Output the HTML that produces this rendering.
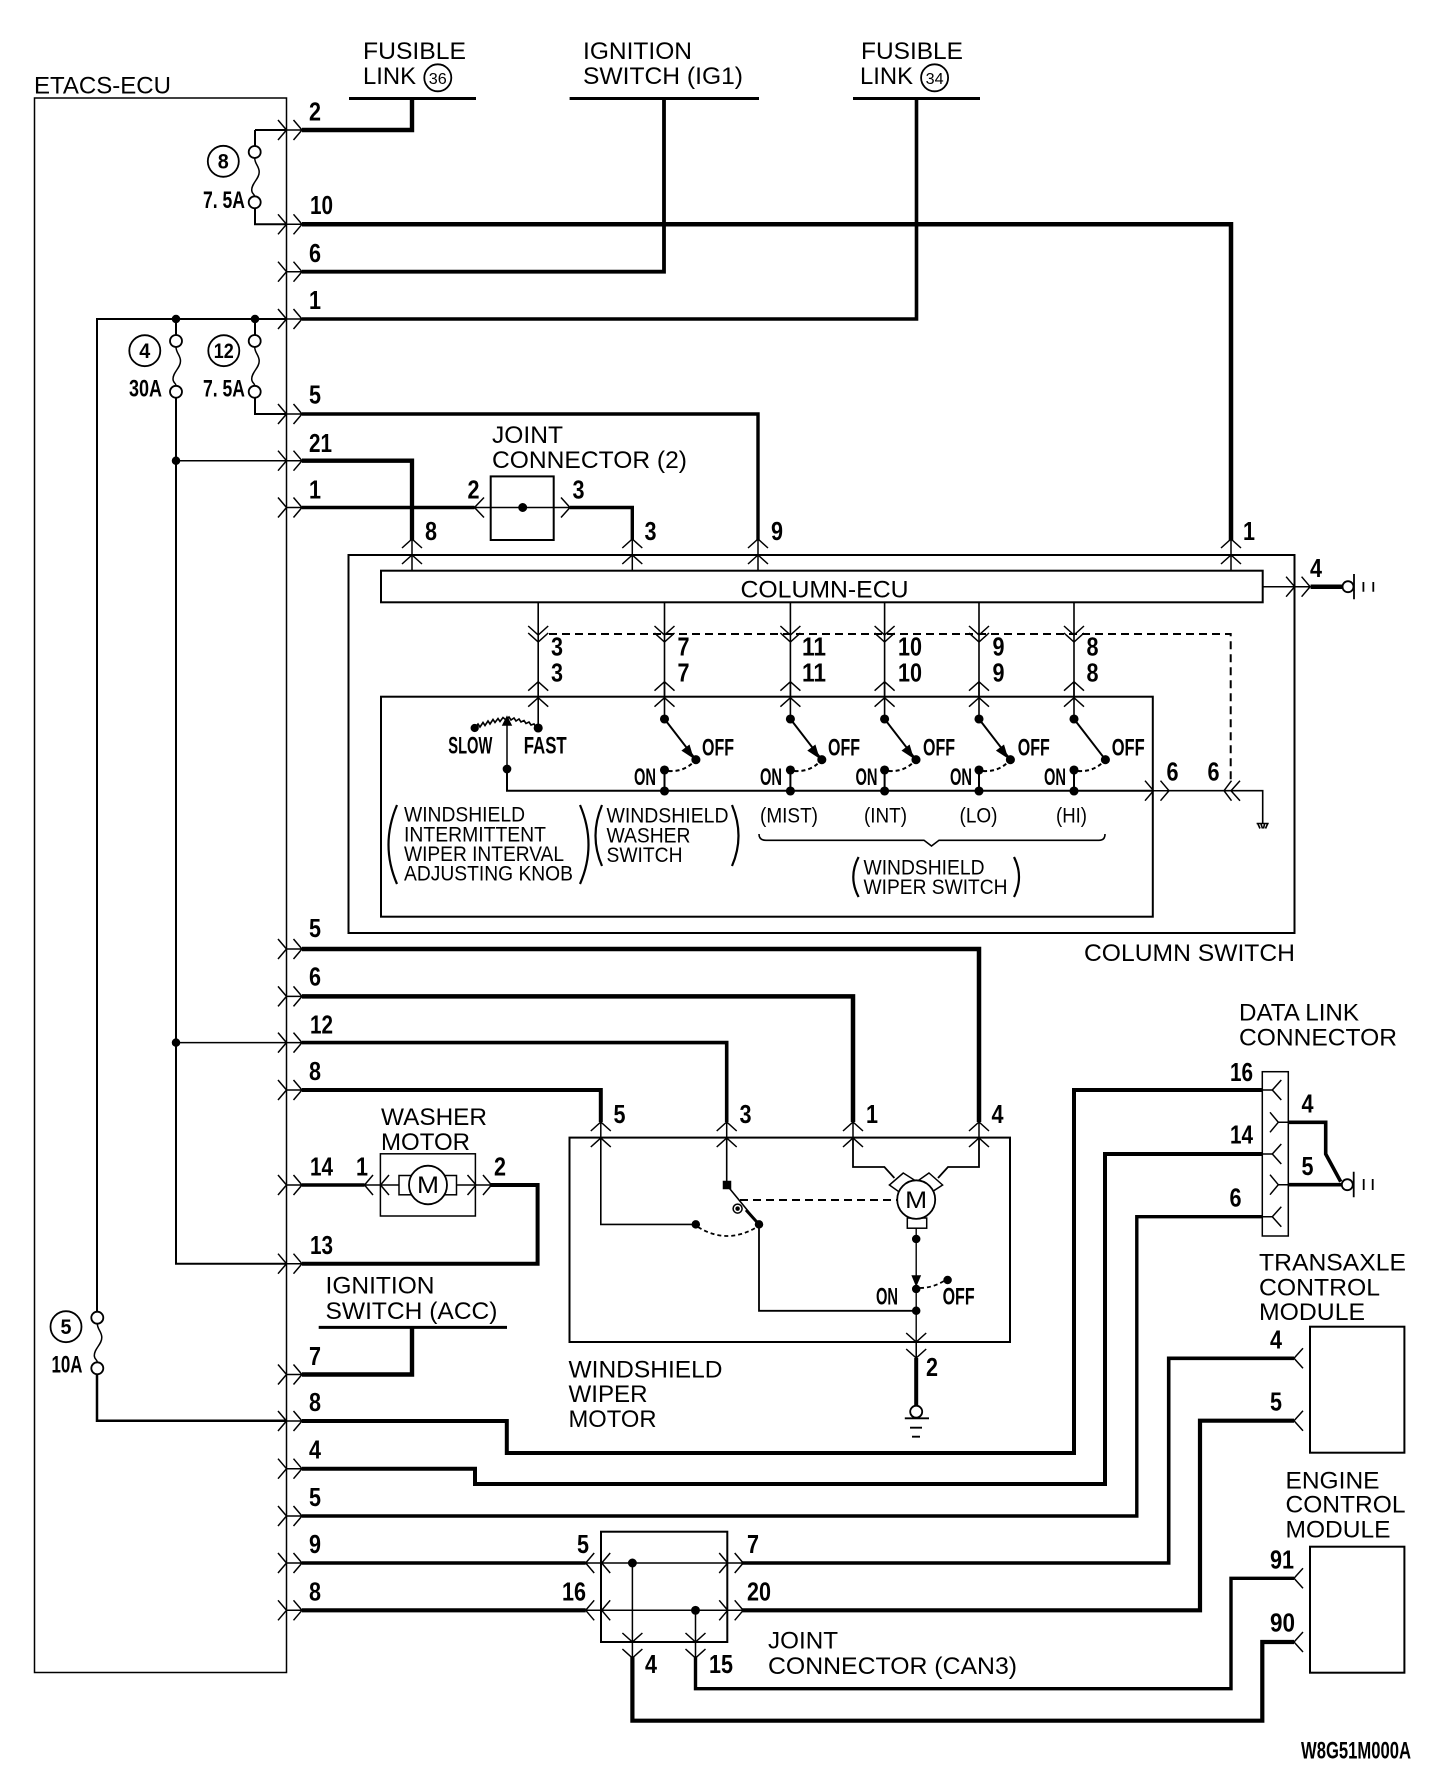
<!DOCTYPE html>
<html><head><meta charset="utf-8"><title>Wiper circuit</title>
<style>
html,body{margin:0;padding:0;background:#fff}
svg{display:block}
text{fill:#000;stroke:none}
.t{font:24.5px "Liberation Sans",sans-serif}
.s{font:21px "Liberation Sans",sans-serif}
.d{font:bold 26px "Liberation Sans",sans-serif}
.b{font:bold 24px "Liberation Sans",sans-serif}
.c{font:bold 21px "Liberation Sans",sans-serif}
.k{font:16px "Liberation Sans",sans-serif}
</style></head><body>
<svg xmlns="http://www.w3.org/2000/svg" width="1456" height="1790" viewBox="0 0 1456 1790" fill="none" stroke="#000" stroke-width="1.5">
<defs>
<path id="r" d="M-8.5-10L0 0L-8.5 10M7-10L15.5 0L7 10M0 0H15.5"/>
<path id="l" d="M8.5-10L0 0L8.5 10M24.5-10L16 0L24.5 10M0 0H16"/>
<path id="u" d="M-10 9L0 0L10 9M-10 25L0 16L10 25M0 0V16"/>
<path id="v" d="M-10-9L0 0L10-9M-10 7L0 16L10 7M0 0V16"/>
<path id="cc" d="M-10-9L0 0L10-9M-10-2L0 7L10-2"/>
<path id="in" d="M9-10L0 0L9 10"/>
<g id="sw"><circle cy="719" r="3.8" fill="#000"/><path d="M0 719L31.4 759.7" stroke-width="2"/><circle cx="31.4" cy="759.7" r="3.8" fill="#000"/><circle cy="770" r="3.8" fill="#000"/><circle cy="791" r="3.8" fill="#000"/><path d="M0 770V791" stroke-width="2"/><path d="M4 771Q20 772 30 761" stroke-width="2" stroke-dasharray="4 3"/></g>
<path id="ah" d="M28 757L18.2 750.6L24.6 745.8Z" fill="#000"/>
<path id="fw" d="M0 0C0 6 4.500 8 4.500 14C4.500 21-3 25-3 32C-3 36 0 36 0 38.500"/>
</defs>

<!-- boxes -->
<rect x="34.500" y="98" width="252" height="1574.500"/>
<rect x="348.500" y="555" width="946" height="378" stroke-width="2"/>
<rect x="381" y="570.700" width="881.700" height="31.600" stroke-width="2"/>
<rect x="381" y="696.700" width="771.800" height="220" stroke-width="2"/>
<rect x="490.700" y="476.400" width="63" height="63.600" stroke-width="2"/>
<rect x="569.500" y="1137.600" width="440.500" height="204.400" stroke-width="2"/>
<rect x="380.400" y="1153.800" width="95" height="62.200" stroke-width="1.500"/>
<rect x="601" y="1531.700" width="126.300" height="110.300" stroke-width="2"/>
<rect x="1262.300" y="1071.700" width="26" height="164.300" stroke-width="1.500"/>
<rect x="1310" y="1326.700" width="94.400" height="126" stroke-width="2"/>
<rect x="1310" y="1546.700" width="94.400" height="126" stroke-width="2"/>

<!-- supply bars -->
<path d="M349 98.500H476M569.600 98.500H759M853 98.500H980M318.700 1327.400H507" stroke-width="3"/>

<!-- thick wires -->
<g stroke-linejoin="miter">
<path d="M302 130H412V98" stroke-width="4.400"/>
<path d="M302 224.300H1231V540" stroke-width="4.500"/>
<path d="M302 271.700H664V98" stroke-width="3.800"/>
<path d="M302 319H916.500V98" stroke-width="3.600"/>
<path d="M302 414H758V540" stroke-width="3.400"/>
<path d="M302 460.700H412V540" stroke-width="4.300"/>
<path d="M302 507.500H474.500M570 507.500H632.300V540" stroke-width="3.400"/>
<path d="M302 949H979V1122" stroke-width="4.500"/>
<path d="M302 996.400H853V1122" stroke-width="4.500"/>
<path d="M302 1042.600H726.700V1122" stroke-width="3.600"/>
<path d="M302 1090H600.800V1122" stroke-width="4"/>
<path d="M302 1185H364.500" stroke-width="3.600"/>
<path d="M491 1185H537.600V1263.700H302" stroke-width="4"/>
<path d="M302 1374.500H412V1327" stroke-width="4.400"/>
<path d="M302 1421H506.800V1453H1074V1090H1262" stroke-width="4"/>
<path d="M302 1468.700H475V1484H1105V1154H1262" stroke-width="4"/>
<path d="M302 1516H1136.800V1216.700H1262" stroke-width="3.400"/>
<path d="M302 1563H585.700M742 1563H1168.700V1358.300H1294" stroke-width="3.600"/>
<path d="M302 1610.300H585.700M742 1610.300H1200V1420.700H1294" stroke-width="4.200"/>
<path d="M632.400 1657V1720.700H1262.300V1642H1294" stroke-width="4.200"/>
<path d="M695.500 1657V1688.700H1231V1578.300H1294" stroke-width="3.400"/>
<path d="M916.200 1358V1405.500" stroke-width="4"/>
<path d="M1310.600 586.700H1343" stroke-width="4.500"/>
<path d="M1288 1122.300H1325.700V1154L1340.700 1181.700M1288 1184.700H1341.700" stroke-width="3.600"/>
</g>

<!-- ETACS pins -->
<use href="#r" x="286.500" y="130"/><use href="#r" x="286.500" y="224.300"/><use href="#r" x="286.500" y="271.700"/><use href="#r" x="286.500" y="319"/><use href="#r" x="286.500" y="414"/><use href="#r" x="286.500" y="460.700"/><use href="#r" x="286.500" y="507.500"/><use href="#r" x="286.500" y="949"/><use href="#r" x="286.500" y="996.400"/><use href="#r" x="286.500" y="1042.600"/><use href="#r" x="286.500" y="1090"/><use href="#r" x="286.500" y="1185"/><use href="#r" x="286.500" y="1263.700"/><use href="#r" x="286.500" y="1374.500"/><use href="#r" x="286.500" y="1421"/><use href="#r" x="286.500" y="1468.700"/><use href="#r" x="286.500" y="1516"/><use href="#r" x="286.500" y="1563"/><use href="#r" x="286.500" y="1610.300"/>

<!-- internal buses and fuses -->
<path d="M255 130H286M255 130V146M255 208V224.300H286" stroke-width="2"/>
<path d="M97 1311V319H286M176 319V335M255 319V335M255 398V414H286" stroke-width="2"/>
<path d="M176 398V1263.700H286" stroke-width="2"/>
<path d="M176 460.700H286M176 1042.600H286" stroke-width="1.500"/>
<path d="M97 1374.500V1420.700H286" stroke-width="2.500"/>
<circle cx="176" cy="319" r="3.500" fill="#000"/><circle cx="255" cy="319" r="3.500" fill="#000"/><circle cx="176" cy="460.700" r="3.500" fill="#000"/><circle cx="176" cy="1042.600" r="3.500" fill="#000"/>
<g fill="#fff" stroke-width="1.800">
<circle cx="254.700" cy="152" r="6"/><circle cx="254.700" cy="202.300" r="6"/>
<circle cx="254.700" cy="341" r="6"/><circle cx="254.700" cy="391.800" r="6"/>
<circle cx="176" cy="341" r="6"/><circle cx="176" cy="391.800" r="6"/>
<circle cx="97.300" cy="1317.700" r="6"/><circle cx="97.300" cy="1368.300" r="6"/>
</g>
<use href="#fw" x="254.700" y="158"/><use href="#fw" x="254.700" y="347"/><use href="#fw" x="176" y="347"/><use href="#fw" x="97.300" y="1323.500"/>
<g stroke-width="1.800">
<circle cx="223.300" cy="161.300" r="15.500"/><circle cx="144.800" cy="350.700" r="15.500"/><circle cx="223.800" cy="350.700" r="15.500"/><circle cx="66" cy="1326.700" r="15.500"/>
<circle cx="437.800" cy="77.800" r="13.500"/><circle cx="934.600" cy="77.800" r="13.500"/>
</g>

<!-- up pins on column switch -->
<use href="#u" x="412" y="539"/><use href="#u" x="632.300" y="539"/><use href="#u" x="758" y="539"/><use href="#u" x="1231" y="539"/>
<path d="M412 555V570.700M632.300 555V570.700M758 555V570.700M1231 555V570.700"/>

<!-- joint connector 2 -->
<path d="M474.500 507.500H570M484 497.500L474.500 507.500L484 517.500M561 497.500L570 507.500L561 517.500"/>
<circle cx="522.700" cy="507.500" r="3.700" fill="#000"/>

<!-- column ECU ground -->
<path d="M1262.700 586.700H1294.600"/>
<use href="#r" x="1294.600" y="586.700"/>
<circle cx="1348" cy="586.700" r="5.500" fill="#fff" stroke-width="1.800"/>
<path d="M1354 574V599.300M1363.400 582V591.700M1373.300 582V591.700" stroke-width="1.800"/>

<!-- column ECU drops -->
<path d="M538.200 602.300V728M664.500 602.300V719M790.400 602.300V719M884.600 602.300V719M979 602.300V719M1074 602.300V719" stroke-width="1.600"/>
<use href="#cc" x="538.200" y="635"/><use href="#cc" x="664.500" y="635"/><use href="#cc" x="790.400" y="635"/><use href="#cc" x="884.600" y="635"/><use href="#cc" x="979" y="635"/><use href="#cc" x="1074" y="635"/>
<use href="#u" x="538.200" y="681.700"/><use href="#u" x="664.500" y="681.700"/><use href="#u" x="790.400" y="681.700"/><use href="#u" x="884.600" y="681.700"/><use href="#u" x="979" y="681.700"/><use href="#u" x="1074" y="681.700"/>
<path d="M549 634H1230.700V780" stroke-width="2" stroke-dasharray="8 5"/>

<!-- switches -->
<use href="#sw" x="664.500"/><use href="#sw" x="790.400"/><use href="#sw" x="884.600"/><use href="#sw" x="979"/><use href="#sw" x="1074"/>
<use href="#ah" x="664.500"/><use href="#ah" x="790.400"/><use href="#ah" x="884.600"/><use href="#ah" x="979"/>
<path d="M507 769V790.700H1153" stroke-width="2"/>
<path d="M507 769V722" stroke-width="1.500"/>
<path d="M507 717L503 725H511Z" fill="#000"/>
<circle cx="507" cy="769" r="3.600" fill="#000"/>
<circle cx="474.700" cy="728" r="3.400" fill="#000"/><circle cx="538.200" cy="728" r="3.800" fill="#000"/>
<path d="M475 728L478 724L480 727L483 722.500L485 725.500L488 721L490 724L493 719.500L495 722.500L498 718.500L500 721.500L503 717.500L506 720L509 717L511 720L514 718L516 721L519 719L521 722L524 720.500L526 723.500L529 722L531 725L534 724L536 727L538 728" stroke-width="1.600"/>
<use href="#r" x="1153.500" y="790.700"/>
<path d="M1168.800 790.700H1262.700V823" stroke-width="1.600"/>
<path d="M1231.500 780.700L1224 790.700L1231.500 800.700M1240 780.700L1231 790.700L1240 800.700"/>
<path d="M1256.600 823.500H1268.700M1258 824L1260 828.500M1261 824L1262.500 828.500M1264.500 824L1263.500 828.500M1267.500 824L1265.500 828.500" stroke-width="1.600"/>

<!-- big parens & brace -->
<g stroke-width="2.200">
<path d="M397 805Q380 845 397 884M580 805Q597 845 580 884"/>
<path d="M602 805Q589 836 602 866M732 805Q745 836 732 866"/>
<path d="M858.600 857Q848 877 858.600 897M1014 857Q1024 877 1014 897"/>
</g>
<path d="M759 834Q759 840.300 766 840.300H924L931.500 846L939 840.300H1099Q1105 840.300 1105 834" stroke-width="1.600"/>

<!-- washer motor -->
<use href="#l" x="364.500" y="1185"/><use href="#r" x="476" y="1185"/>
<path d="M381 1185H399M456.500 1185H476"/>
<rect x="399" y="1175.500" width="57.500" height="19.300"/>
<ellipse cx="428" cy="1185" rx="19" ry="19.300" fill="#fff" stroke-width="1.800"/>

<!-- wiper motor internals -->
<use href="#u" x="600.800" y="1122"/><use href="#u" x="726.700" y="1122"/><use href="#u" x="853" y="1122"/><use href="#u" x="979" y="1122"/>
<path d="M600.800 1138V1224.400H695.800" stroke-width="1.600"/>
<path d="M726.700 1138V1185L759 1224.400" stroke-width="1.600"/>
<rect x="723.500" y="1181.500" width="7" height="7" fill="#000"/>
<path d="M746 1210L759 1224.400" stroke-width="3"/>
<circle cx="737.600" cy="1208.600" r="4.500" stroke-width="1.500"/><circle cx="737.600" cy="1208.600" r="1.500" fill="#000"/>
<path d="M698 1227Q727 1245 757 1227" stroke-width="1.800" stroke-dasharray="4 3"/>
<circle cx="695.800" cy="1224.400" r="3.500" fill="#000"/><circle cx="759" cy="1224.400" r="3.500" fill="#000"/>
<path d="M759 1224.400V1310.800H916.200" stroke-width="1.800"/>
<path d="M740 1200H898" stroke-width="2" stroke-dasharray="8 5"/>
<path d="M853 1138V1167H884.400L894.400 1178M979 1138V1167H948L938 1178" stroke-width="1.800"/>
<path d="M903.300 1173L889.400 1185L901.800 1193.800L914.300 1180ZM929 1173L942.600 1185L929 1193.800L919 1180Z" fill="#fff"/>
<rect x="907.300" y="1218" width="19.400" height="10.200"/>
<ellipse cx="916.200" cy="1199.600" rx="19" ry="19.300" fill="#fff" stroke-width="1.800"/>
<path d="M916.200 1228V1358" stroke-width="1.400"/>
<circle cx="916.200" cy="1239" r="3.500" fill="#000"/><circle cx="916.200" cy="1289" r="3.500" fill="#000"/><circle cx="947.600" cy="1280" r="3.500" fill="#000"/><circle cx="916.200" cy="1310.800" r="3.500" fill="#000"/>
<path d="M912.500 1276H920L916.200 1285Z" fill="#000"/>
<path d="M920 1288Q932 1288 944 1281" stroke-width="1.800" stroke-dasharray="4 3"/>
<use href="#v" x="916.200" y="1342"/>
<ellipse cx="916.200" cy="1411.700" rx="6" ry="6" fill="#fff" stroke-width="1.800"/>
<path d="M904.800 1418.300H929M910 1427.700H922M912 1436.700H920" stroke-width="1.800"/>

<!-- joint CAN3 -->
<use href="#l" x="585.700" y="1563"/><use href="#l" x="585.700" y="1610.300"/>
<use href="#r" x="727.700" y="1563"/><use href="#r" x="727.700" y="1610.300"/>
<path d="M601 1563H727M601 1610.300H727M632.400 1563V1642M695.500 1610.300V1642"/>
<circle cx="632.400" cy="1563" r="3.700" fill="#000"/><circle cx="695.500" cy="1610.300" r="3.700" fill="#000"/>
<use href="#v" x="632.400" y="1642"/><use href="#v" x="695.500" y="1642"/>

<!-- data link connector -->
<use href="#in" x="1272.300" y="1090"/><use href="#in" x="1272.300" y="1154"/><use href="#in" x="1272.300" y="1216.700"/>
<path d="M1262 1090H1272M1262 1154H1272M1262 1216.700H1272M1278 1122.300H1288M1278 1184.700H1288"/>
<path d="M1270 1112.300L1278.300 1122.300L1270 1132.300M1270 1174.700L1278.300 1184.700L1270 1194.700"/>
<circle cx="1347.300" cy="1184.700" r="5.500" fill="#fff" stroke-width="1.800"/>
<path d="M1353.700 1171.700V1197.300M1363.700 1179V1190M1372.700 1179V1190" stroke-width="1.800"/>

<!-- module pins -->
<use href="#in" x="1294" y="1358.300"/><use href="#in" x="1294" y="1420.700"/><use href="#in" x="1294" y="1578.300"/><use href="#in" x="1294" y="1642"/>

<!-- regular labels -->
<text class="t" x="34" y="93.600" textLength="137" lengthAdjust="spacingAndGlyphs">ETACS-ECU</text>
<text class="t" x="363" y="59" textLength="103" lengthAdjust="spacingAndGlyphs">FUSIBLE</text>
<text class="t" x="363" y="84" textLength="53" lengthAdjust="spacingAndGlyphs">LINK</text>
<text class="k" x="437.800" y="84" text-anchor="middle" textLength="18" lengthAdjust="spacingAndGlyphs">36</text>
<text class="t" x="583" y="59" textLength="109" lengthAdjust="spacingAndGlyphs">IGNITION</text>
<text class="t" x="583" y="84" textLength="160" lengthAdjust="spacingAndGlyphs">SWITCH (IG1)</text>
<text class="t" x="861" y="59" textLength="102" lengthAdjust="spacingAndGlyphs">FUSIBLE</text>
<text class="t" x="860" y="84" textLength="53" lengthAdjust="spacingAndGlyphs">LINK</text>
<text class="k" x="934.600" y="84" text-anchor="middle" textLength="18" lengthAdjust="spacingAndGlyphs">34</text>
<text class="t" x="492" y="442.900" textLength="71" lengthAdjust="spacingAndGlyphs">JOINT</text>
<text class="t" x="492" y="467.900" textLength="195" lengthAdjust="spacingAndGlyphs">CONNECTOR (2)</text>
<text class="t" x="740.500" y="597.700" textLength="168" lengthAdjust="spacingAndGlyphs">COLUMN-ECU</text>
<text class="t" x="1084" y="961" textLength="211" lengthAdjust="spacingAndGlyphs">COLUMN SWITCH</text>
<text class="s" x="404" y="821.700" textLength="121" lengthAdjust="spacingAndGlyphs">WINDSHIELD</text>
<text class="s" x="404" y="841.700" textLength="142" lengthAdjust="spacingAndGlyphs">INTERMITTENT</text>
<text class="s" x="404" y="861" textLength="160" lengthAdjust="spacingAndGlyphs">WIPER INTERVAL</text>
<text class="s" x="404" y="880.700" textLength="169" lengthAdjust="spacingAndGlyphs">ADJUSTING KNOB</text>
<text class="s" x="606.500" y="822.700" textLength="122" lengthAdjust="spacingAndGlyphs">WINDSHIELD</text>
<text class="s" x="606.500" y="842.700" textLength="84" lengthAdjust="spacingAndGlyphs">WASHER</text>
<text class="s" x="606.500" y="862" textLength="76" lengthAdjust="spacingAndGlyphs">SWITCH</text>
<text class="s" x="760" y="822.700" textLength="58" lengthAdjust="spacingAndGlyphs">(MIST)</text>
<text class="s" x="864" y="822.700" textLength="43" lengthAdjust="spacingAndGlyphs">(INT)</text>
<text class="s" x="959.500" y="822.700" textLength="38" lengthAdjust="spacingAndGlyphs">(LO)</text>
<text class="s" x="1056" y="822.700" textLength="31" lengthAdjust="spacingAndGlyphs">(HI)</text>
<text class="s" x="863.500" y="874.300" textLength="121" lengthAdjust="spacingAndGlyphs">WINDSHIELD</text>
<text class="s" x="863.500" y="894" textLength="144" lengthAdjust="spacingAndGlyphs">WIPER SWITCH</text>
<text class="t" x="381" y="1125" textLength="106" lengthAdjust="spacingAndGlyphs">WASHER</text>
<text class="t" x="381" y="1150" textLength="89" lengthAdjust="spacingAndGlyphs">MOTOR</text>
<text class="t" x="428" y="1193" text-anchor="middle" textLength="22" lengthAdjust="spacingAndGlyphs">M</text>
<text class="t" x="916.200" y="1208" text-anchor="middle" textLength="22" lengthAdjust="spacingAndGlyphs">M</text>
<text class="t" x="325.500" y="1293.600" textLength="109" lengthAdjust="spacingAndGlyphs">IGNITION</text>
<text class="t" x="325.500" y="1318.800" textLength="172" lengthAdjust="spacingAndGlyphs">SWITCH (ACC)</text>
<text class="t" x="568.500" y="1377.300" textLength="154" lengthAdjust="spacingAndGlyphs">WINDSHIELD</text>
<text class="t" x="568.500" y="1402" textLength="79" lengthAdjust="spacingAndGlyphs">WIPER</text>
<text class="t" x="568.500" y="1427" textLength="88" lengthAdjust="spacingAndGlyphs">MOTOR</text>
<text class="t" x="768" y="1648.300" textLength="70" lengthAdjust="spacingAndGlyphs">JOINT</text>
<text class="t" x="768" y="1674" textLength="249" lengthAdjust="spacingAndGlyphs">CONNECTOR (CAN3)</text>
<text class="t" x="1239" y="1020.700" textLength="120" lengthAdjust="spacingAndGlyphs">DATA LINK</text>
<text class="t" x="1239" y="1045.700" textLength="158" lengthAdjust="spacingAndGlyphs">CONNECTOR</text>
<text class="t" x="1259" y="1270.700" textLength="147" lengthAdjust="spacingAndGlyphs">TRANSAXLE</text>
<text class="t" x="1259" y="1295.700" textLength="121" lengthAdjust="spacingAndGlyphs">CONTROL</text>
<text class="t" x="1259" y="1320" textLength="106" lengthAdjust="spacingAndGlyphs">MODULE</text>
<text class="t" x="1285.500" y="1488.300" textLength="94" lengthAdjust="spacingAndGlyphs">ENGINE</text>
<text class="t" x="1285.500" y="1512.700" textLength="120" lengthAdjust="spacingAndGlyphs">CONTROL</text>
<text class="t" x="1285.500" y="1537.700" textLength="105" lengthAdjust="spacingAndGlyphs">MODULE</text>

<!-- bold small labels -->
<text class="c" x="223.300" y="168.500" text-anchor="middle" textLength="11" lengthAdjust="spacingAndGlyphs">8</text>
<text class="c" x="144.800" y="358" text-anchor="middle" textLength="11" lengthAdjust="spacingAndGlyphs">4</text>
<text class="c" x="223.800" y="358" text-anchor="middle" textLength="20" lengthAdjust="spacingAndGlyphs">12</text>
<text class="c" x="66" y="1334" text-anchor="middle" textLength="11" lengthAdjust="spacingAndGlyphs">5</text>
<text class="b" x="203" y="207.900" textLength="42" lengthAdjust="spacingAndGlyphs">7. 5A</text>
<text class="b" x="203" y="396.400" textLength="42" lengthAdjust="spacingAndGlyphs">7. 5A</text>
<text class="b" x="129" y="396.400" textLength="33" lengthAdjust="spacingAndGlyphs">30A</text>
<text class="b" x="51.500" y="1372.300" textLength="31" lengthAdjust="spacingAndGlyphs">10A</text>
<text class="b" x="448.300" y="753.300" textLength="44" lengthAdjust="spacingAndGlyphs">SLOW</text>
<text class="b" x="523.700" y="753.300" textLength="43" lengthAdjust="spacingAndGlyphs">FAST</text>
<text class="b" x="702" y="755.300" textLength="32" lengthAdjust="spacingAndGlyphs">OFF</text>
<text class="b" x="828" y="755.300" textLength="32" lengthAdjust="spacingAndGlyphs">OFF</text>
<text class="b" x="923" y="755.300" textLength="32" lengthAdjust="spacingAndGlyphs">OFF</text>
<text class="b" x="1017.800" y="755.300" textLength="32" lengthAdjust="spacingAndGlyphs">OFF</text>
<text class="b" x="1111.700" y="755.300" textLength="33" lengthAdjust="spacingAndGlyphs">OFF</text>
<text class="b" x="634" y="785" textLength="22" lengthAdjust="spacingAndGlyphs">ON</text>
<text class="b" x="760" y="785" textLength="22" lengthAdjust="spacingAndGlyphs">ON</text>
<text class="b" x="855.500" y="785" textLength="22" lengthAdjust="spacingAndGlyphs">ON</text>
<text class="b" x="950" y="785" textLength="22" lengthAdjust="spacingAndGlyphs">ON</text>
<text class="b" x="1044" y="785" textLength="22" lengthAdjust="spacingAndGlyphs">ON</text>
<text class="b" x="876" y="1304.600" textLength="22" lengthAdjust="spacingAndGlyphs">ON</text>
<text class="b" x="942.600" y="1304.600" textLength="32" lengthAdjust="spacingAndGlyphs">OFF</text>
<text class="b" x="1301" y="1758.300" textLength="110" lengthAdjust="spacingAndGlyphs">W8G51M000A</text>

<!-- pin numbers: ETACS -->
<text class="d" x="309" y="120.700" textLength="12" lengthAdjust="spacingAndGlyphs">2</text>
<text class="d" x="310" y="214" textLength="23" lengthAdjust="spacingAndGlyphs">10</text>
<text class="d" x="309" y="262" textLength="12" lengthAdjust="spacingAndGlyphs">6</text>
<text class="d" x="309" y="309" textLength="12" lengthAdjust="spacingAndGlyphs">1</text>
<text class="d" x="309" y="403.600" textLength="12" lengthAdjust="spacingAndGlyphs">5</text>
<text class="d" x="309" y="451.800" textLength="23" lengthAdjust="spacingAndGlyphs">21</text>
<text class="d" x="309" y="498.600" textLength="12" lengthAdjust="spacingAndGlyphs">1</text>
<text class="d" x="309" y="937" textLength="12" lengthAdjust="spacingAndGlyphs">5</text>
<text class="d" x="309" y="985.400" textLength="12" lengthAdjust="spacingAndGlyphs">6</text>
<text class="d" x="310" y="1033.600" textLength="23" lengthAdjust="spacingAndGlyphs">12</text>
<text class="d" x="309" y="1079.800" textLength="12" lengthAdjust="spacingAndGlyphs">8</text>
<text class="d" x="310" y="1175.500" textLength="23" lengthAdjust="spacingAndGlyphs">14</text>
<text class="d" x="310" y="1254" textLength="23" lengthAdjust="spacingAndGlyphs">13</text>
<text class="d" x="309" y="1365" textLength="12" lengthAdjust="spacingAndGlyphs">7</text>
<text class="d" x="309" y="1411" textLength="12" lengthAdjust="spacingAndGlyphs">8</text>
<text class="d" x="309" y="1458.700" textLength="12" lengthAdjust="spacingAndGlyphs">4</text>
<text class="d" x="309" y="1506" textLength="12" lengthAdjust="spacingAndGlyphs">5</text>
<text class="d" x="309" y="1553" textLength="12" lengthAdjust="spacingAndGlyphs">9</text>
<text class="d" x="309" y="1600.700" textLength="12" lengthAdjust="spacingAndGlyphs">8</text>

<!-- pin numbers: others -->
<text class="d" x="425" y="540" textLength="12" lengthAdjust="spacingAndGlyphs">8</text>
<text class="d" x="467.500" y="498.600" textLength="12" lengthAdjust="spacingAndGlyphs">2</text>
<text class="d" x="572.500" y="498.600" textLength="12" lengthAdjust="spacingAndGlyphs">3</text>
<text class="d" x="644.500" y="540" textLength="12" lengthAdjust="spacingAndGlyphs">3</text>
<text class="d" x="771" y="540" textLength="12" lengthAdjust="spacingAndGlyphs">9</text>
<text class="d" x="1243" y="540" textLength="12" lengthAdjust="spacingAndGlyphs">1</text>
<text class="d" x="1310" y="577" textLength="12" lengthAdjust="spacingAndGlyphs">4</text>
<text class="d" x="551" y="655.300" textLength="12" lengthAdjust="spacingAndGlyphs">3</text>
<text class="d" x="551" y="681.700" textLength="12" lengthAdjust="spacingAndGlyphs">3</text>
<text class="d" x="677.500" y="655.300" textLength="12" lengthAdjust="spacingAndGlyphs">7</text>
<text class="d" x="677.500" y="681.700" textLength="12" lengthAdjust="spacingAndGlyphs">7</text>
<text class="d" x="802" y="655.300" textLength="24" lengthAdjust="spacingAndGlyphs">11</text>
<text class="d" x="802" y="681.700" textLength="24" lengthAdjust="spacingAndGlyphs">11</text>
<text class="d" x="898" y="655.300" textLength="24" lengthAdjust="spacingAndGlyphs">10</text>
<text class="d" x="898" y="681.700" textLength="24" lengthAdjust="spacingAndGlyphs">10</text>
<text class="d" x="992.500" y="655.300" textLength="12" lengthAdjust="spacingAndGlyphs">9</text>
<text class="d" x="992.500" y="681.700" textLength="12" lengthAdjust="spacingAndGlyphs">9</text>
<text class="d" x="1086.500" y="655.300" textLength="12" lengthAdjust="spacingAndGlyphs">8</text>
<text class="d" x="1086.500" y="681.700" textLength="12" lengthAdjust="spacingAndGlyphs">8</text>
<text class="d" x="1166.500" y="780.700" textLength="12" lengthAdjust="spacingAndGlyphs">6</text>
<text class="d" x="1207.500" y="780.700" textLength="12" lengthAdjust="spacingAndGlyphs">6</text>
<text class="d" x="356" y="1175.500" textLength="12" lengthAdjust="spacingAndGlyphs">1</text>
<text class="d" x="494" y="1175.500" textLength="12" lengthAdjust="spacingAndGlyphs">2</text>
<text class="d" x="613.500" y="1123" textLength="12" lengthAdjust="spacingAndGlyphs">5</text>
<text class="d" x="739.500" y="1123" textLength="12" lengthAdjust="spacingAndGlyphs">3</text>
<text class="d" x="866" y="1123" textLength="12" lengthAdjust="spacingAndGlyphs">1</text>
<text class="d" x="991.500" y="1123" textLength="12" lengthAdjust="spacingAndGlyphs">4</text>
<text class="d" x="926" y="1376" textLength="12" lengthAdjust="spacingAndGlyphs">2</text>
<text class="d" x="577" y="1553" textLength="12" lengthAdjust="spacingAndGlyphs">5</text>
<text class="d" x="562" y="1600.700" textLength="24" lengthAdjust="spacingAndGlyphs">16</text>
<text class="d" x="747" y="1553" textLength="12" lengthAdjust="spacingAndGlyphs">7</text>
<text class="d" x="747" y="1600.700" textLength="24" lengthAdjust="spacingAndGlyphs">20</text>
<text class="d" x="645" y="1673" textLength="12" lengthAdjust="spacingAndGlyphs">4</text>
<text class="d" x="709" y="1673" textLength="24" lengthAdjust="spacingAndGlyphs">15</text>
<text class="d" x="1230" y="1081" textLength="23" lengthAdjust="spacingAndGlyphs">16</text>
<text class="d" x="1230" y="1143.300" textLength="23" lengthAdjust="spacingAndGlyphs">14</text>
<text class="d" x="1229.500" y="1206.700" textLength="12" lengthAdjust="spacingAndGlyphs">6</text>
<text class="d" x="1301.500" y="1112.300" textLength="12" lengthAdjust="spacingAndGlyphs">4</text>
<text class="d" x="1301.500" y="1175" textLength="12" lengthAdjust="spacingAndGlyphs">5</text>
<text class="d" x="1270" y="1348.300" textLength="12" lengthAdjust="spacingAndGlyphs">4</text>
<text class="d" x="1270" y="1410.700" textLength="12" lengthAdjust="spacingAndGlyphs">5</text>
<text class="d" x="1270" y="1568.300" textLength="24" lengthAdjust="spacingAndGlyphs">91</text>
<text class="d" x="1270" y="1631.700" textLength="25" lengthAdjust="spacingAndGlyphs">90</text>
</svg>
</body></html>
